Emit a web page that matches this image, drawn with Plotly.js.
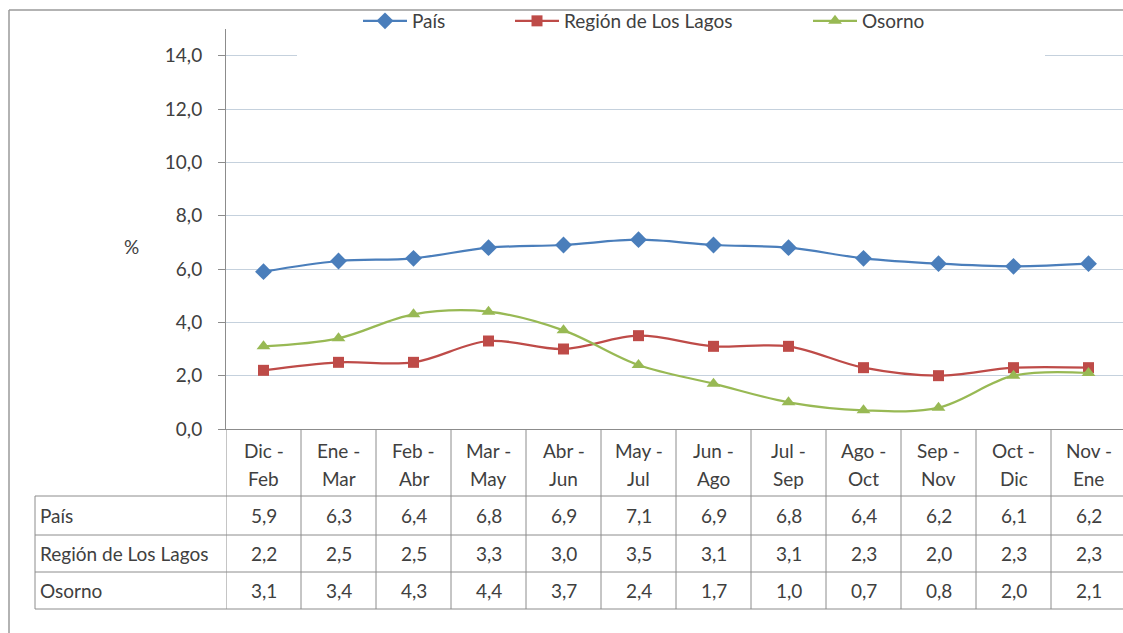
<!DOCTYPE html>
<html>
<head>
<meta charset="utf-8">
<script src="https://cdn.plot.ly/plotly-3.0.1.min.js"></script>
<style>html,body{margin:0;padding:0;overflow:hidden;background:#fff}#chart{width:1123px;height:633px}</style>
</head>
<body>
<div id="chart"></div>
<script>
const categories = ['Dic - Feb','Ene - Mar','Feb - Abr','Mar - May','Abr - Jun','May - Jul','Jun - Ago','Jul - Sep','Ago - Oct','Sep - Nov','Oct - Dic','Nov - Ene'];
const pais   = [5.9,6.3,6.4,6.8,6.9,7.1,6.9,6.8,6.4,6.2,6.1,6.2];
const region = [2.2,2.5,2.5,3.3,3.0,3.5,3.1,3.1,2.3,2.0,2.3,2.3];
const osorno = [3.1,3.4,4.3,4.4,3.7,2.4,1.7,1.0,0.7,0.8,2.0,2.1];
const seriesNames = ['País','Región de Los Lagos','Osorno'];
const seriesValues = [pais, region, osorno];
const yAxisLabel = '%';

const FONT = 'Lato, "Open Sans", sans-serif';
const FS = 19;
const TXT = '#404040';
const colors = ['#4a7ebb','#be4b48','#98b954'];
const symbols = ['diamond','square','triangle-up'];
const msizes = [13,11,12];

// plot-area geometry (pixels)
const W = 1123, H = 633, L = 226, T = 29, PW = W - L, PH = 400;
const COLW = 75;
const px = v => (v - L) / PW;          // pixel x -> paper
const py = v => (T + PH - v) / PH;     // pixel y -> paper

const legendX = [363, 515, 813];
const traces = seriesValues.map((vals, i) => ({
  type: 'scatter', mode: 'lines+markers', name: seriesNames[i],
  x: categories, y: vals,
  line: {color: colors[i], width: 2.25, shape: 'spline', smoothing: 1},
  marker: {symbol: symbols[i], size: msizes[i], color: colors[i]},
  legend: i === 0 ? 'legend' : 'legend' + (i + 1),
  hoverinfo: 'skip'
}));

const shapes = [];
const annotations = [];
const lineStyle = {color: '#8c8c8c', width: 1};
// outer frame (left + top)
shapes.push({type:'line', xref:'paper', yref:'paper', x0:px(9), x1:px(9), y0:py(10), y1:py(640), line:{color:'#9a9a9a', width:1.5}});
shapes.push({type:'line', xref:'paper', yref:'paper', x0:px(9), x1:px(1130), y0:py(10), y1:py(10), line:{color:'#9a9a9a', width:1.5}});
// white mask behind legend covering top gridline
shapes.push({type:'rect', xref:'paper', yref:'paper', x0:px(297), x1:px(1045), y0:py(44), y1:py(64), fillcolor:'#ffffff', line:{width:0}, layer:'above'});

// table geometry
const headerTop = 429, rowBounds = [496, 535, 572, 609];
const tableLeft = 35;
for (let i = -1; i < categories.length; i++) {
  shapes.push({type:'line', xref:'x', yref:'paper', x0:i + 0.5, x1:i + 0.5, y0:py(headerTop), y1:py(rowBounds[3]), line:lineStyle});
}
shapes.push({type:'line', xref:'paper', yref:'paper', x0:px(tableLeft), x1:px(tableLeft), y0:py(rowBounds[0]), y1:py(rowBounds[3]), line:lineStyle});
rowBounds.forEach(r => shapes.push({type:'line', xref:'paper', yref:'paper', x0:px(tableLeft), x1:px(1130), y0:py(r), y1:py(r), line:lineStyle}));

const tfont = {family:FONT, size:FS, color:TXT};
// header labels
categories.forEach((c, i) => {
  const parts = c.split(' - ');
  annotations.push({xref:'x', yref:'paper', x:i, y:py(450), text:parts[0] + ' -', showarrow:false, font:tfont, xanchor:'center', yanchor:'middle'});
  annotations.push({xref:'x', yref:'paper', x:i, y:py(478), text:parts[1], showarrow:false, font:tfont, xanchor:'center', yanchor:'middle'});
});
// data rows
const fmt = v => v.toFixed(1).replace('.', ',');
seriesValues.forEach((vals, r) => {
  const cy = (rowBounds[r] + rowBounds[r + 1]) / 2;
  annotations.push({xref:'paper', yref:'paper', x:px(tableLeft + 3), y:py(cy), text:seriesNames[r], showarrow:false, font:tfont, xanchor:'left', yanchor:'middle'});
  vals.forEach((v, i) => annotations.push({xref:'x', yref:'paper', x:i, y:py(cy), text:fmt(v), showarrow:false, font:tfont, xanchor:'center', yanchor:'middle'}));
});
// y-axis label
annotations.push({xref:'paper', yref:'paper', x:px(131), y:py(247), text:yAxisLabel, showarrow:false, font:tfont, xanchor:'center', yanchor:'middle'});

const legendCommon = {orientation:'h', xanchor:'left', yanchor:'middle', y:py(21), bgcolor:'rgba(0,0,0,0)', font:tfont, itemwidth:44, borderwidth:0};

const layout = {
  width: W, height: H,
  margin: {l: L, r: 0, t: T, b: H - T - PH, pad: 0},
  paper_bgcolor: '#fff', plot_bgcolor: '#fff',
  font: {family: FONT, color: TXT},
  showlegend: true,
  legend:  Object.assign({}, legendCommon, {x: px(legendX[0] - 5)}),
  legend2: Object.assign({}, legendCommon, {x: px(legendX[1] - 5)}),
  legend3: Object.assign({}, legendCommon, {x: px(legendX[2] - 5)}),
  xaxis: {type:'category', range:[-0.5, -0.5 + PW / COLW], showticklabels:false, ticks:'', showgrid:false, zeroline:false, showline:true, linecolor:'#8c8c8c', linewidth:1, fixedrange:true},
  yaxis: {range:[0, 15], dtick:2, tick0:0, tickformat:'.1f', showgrid:true, gridcolor:'#c5d1dd', gridwidth:1, zeroline:false,
          showline:true, linecolor:'#8c8c8c', linewidth:1, ticks:'outside', ticklen:7, tickcolor:'#8c8c8c',
          ticklabelstandoff:12, tickfont:tfont, fixedrange:true},
  separators: ',.',
  shapes: shapes,
  annotations: annotations
};

Plotly.newPlot('chart', traces, layout, {staticPlot: true, displayModeBar: false});
</script>
</body>
</html>
